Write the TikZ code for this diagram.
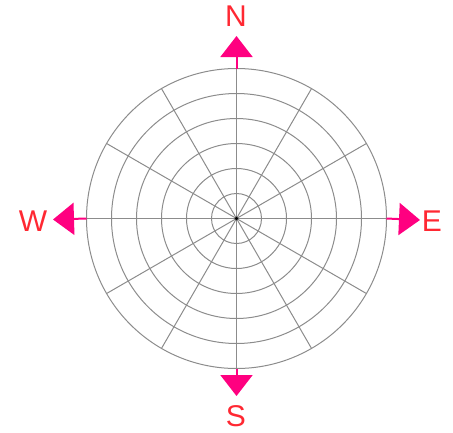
\documentclass[tikz,border=0pt]{standalone}
\usepackage{fontspec}
\setmainfont{Liberation Sans}
\usetikzlibrary{arrows.meta}
\definecolor{gridgray}{RGB}{140,140,140}
\definecolor{arrowpink}{RGB}{255,0,128}
\definecolor{labelred}{RGB}{255,40,50}
\tikzset{
  gridline/.style={draw=gridgray, line width=1pt},
  compassarrow/.style={draw=arrowpink, line width=2pt,
    -{Triangle[length=21pt,width=32pt,fill=arrowpink]}},
  dirlabel/.style={text=labelred, font=\fontsize{30}{30}\selectfont, inner sep=0pt}
}
\begin{document}
\begin{tikzpicture}[x=1pt,y=-1pt]
\useasboundingbox (0,0) rectangle (453,432);
\coordinate (C) at (236.5,218.5);
% concentric circles
\foreach \r in {25,50,75,100,125,150} {
  \draw[gridline] (C) circle[radius=\r];
}
% radial lines
\foreach \a in {0,30,...,330} {
  \draw[gridline] (C) -- ++(\a:150);
}
\fill[black] (C) circle[radius=1.8];
% arrow start points on outer circle
\path (C) ++(0,-150) coordinate (nstart);
\path (C) ++(0,150) coordinate (sstart);
\path (C) ++(150,0) coordinate (estart);
\path (C) ++(-150,0) coordinate (wstart);
\coordinate (ntip) at (236.5,36);
\coordinate (stip) at (236.5,396);
\coordinate (etip) at (420,220);
\coordinate (wtip) at (53,219.5);
\draw[compassarrow] (nstart) -- (ntip);
\draw[compassarrow] (sstart) -- (stip);
\draw[compassarrow] (estart) -- (etip);
\draw[compassarrow] (wstart) -- (wtip);
\node[dirlabel] (N) at (236,16) {N};
\node[dirlabel] (S) at (236,416) {S};
\node[dirlabel] (E) at (432,221) {E};
\node[dirlabel] (W) at (33,221) {W};
\end{tikzpicture}
\end{document}
